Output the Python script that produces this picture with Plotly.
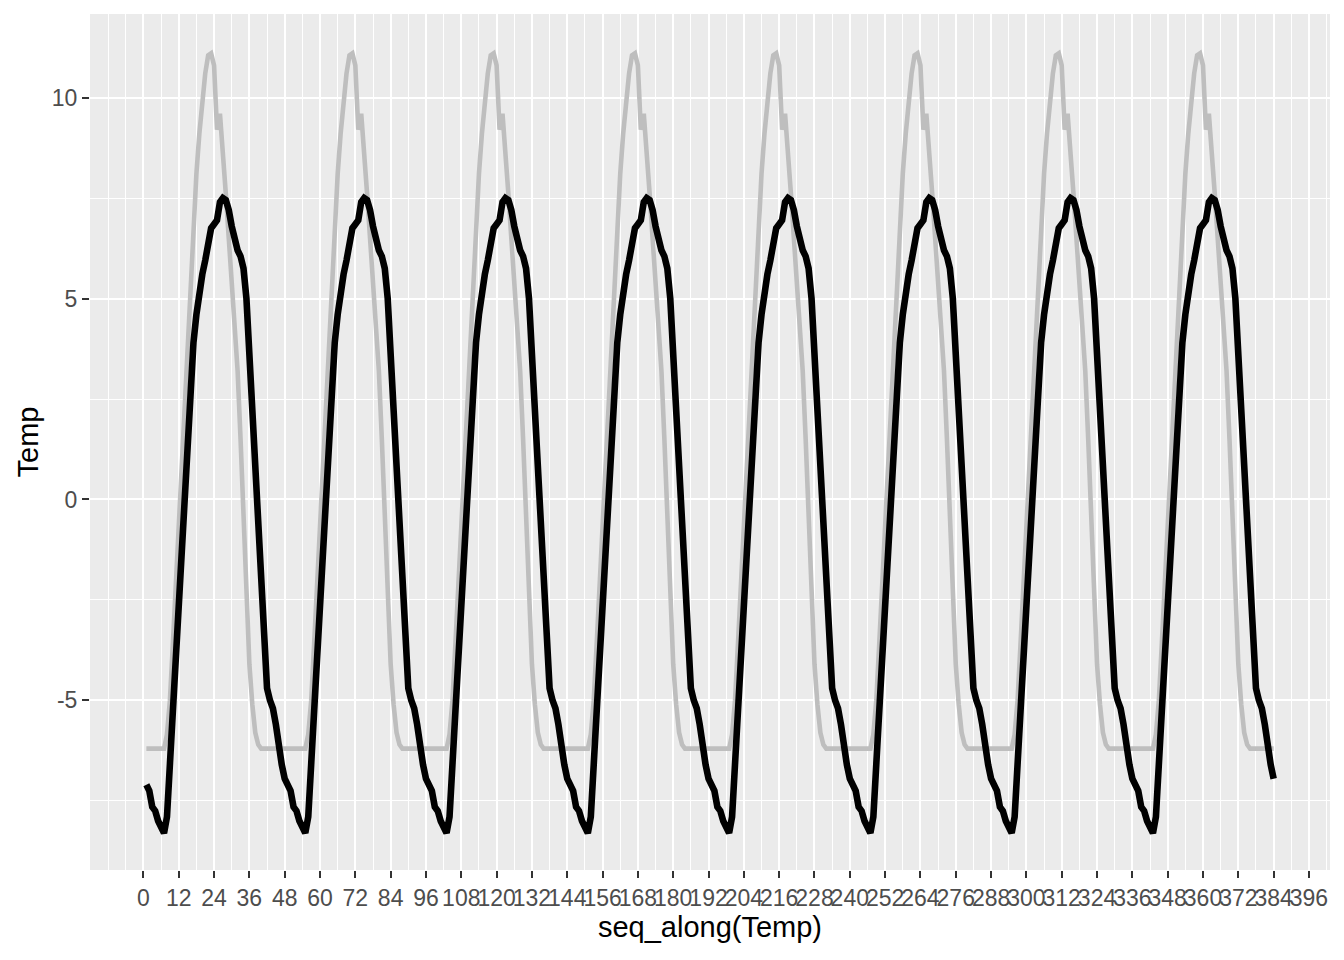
import plotly.graph_objects as go

# One daily cycle (48 readings); the chart repeats it for 8 days
n_days = 8
day_gray = [-6.2, -6.2, -6.2, -6.2, -6.2, -6.2, -6.2, -5.85, -5.0, -3.6,
            -2.1, -0.6, 0.9, 2.4, 3.9, 5.5, 7.0, 8.1, 9.1, 9.9,
            10.6, 11.05, 11.1, 10.8, 9.2, 9.6, 8.4, 7.6, 6.5, 5.3,
            4.2, 3.2, 1.5, -0.6, -2.5, -4.1, -5.1, -5.8, -6.1, -6.2,
            -6.2, -6.2, -6.2, -6.2, -6.2, -6.2, -6.2, -6.2]
day_black = [-7.1, -7.25, -7.65, -7.75, -8.0, -8.2, -8.3, -7.9, -6.6, -5.2,
             -3.6, -2.1, -0.7, 0.6, 1.9, 3.0, 3.9, 4.6, 5.2, 5.6,
             5.95, 6.5, 6.75, 6.85, 6.95, 7.4, 7.5, 7.45, 7.2, 6.8,
             6.4, 6.2, 6.05, 5.75, 5.0, 3.6, 2.3, 0.7, -0.9, -2.5,
             -3.8, -4.7, -5.0, -5.2, -5.6, -6.2, -6.6, -6.95]

temp_gray = day_gray * n_days
temp_black = day_black * n_days
x_gray = list(range(1, len(temp_gray) + 1))
x_black = list(range(1, len(temp_black) + 1))

x_ticks = list(range(0, 397, 12))
y_ticks = [-5, 0, 5, 10]

fig = go.Figure()
fig.add_trace(go.Scatter(x=x_gray, y=temp_gray, mode="lines",
                         line=dict(color="#BEBEBE", width=4.6)))
fig.add_trace(go.Scatter(x=x_black, y=temp_black, mode="lines",
                         line=dict(color="black", width=6.6)))

tickfont = dict(family="Liberation Sans, Arial", size=23, color="#4D4D4D")
titlefont = dict(family="Liberation Sans, Arial", size=29, color="black")

fig.update_layout(
    width=1344, height=960,
    margin=dict(l=90, r=14, t=14, b=90),
    plot_bgcolor="#EBEBEB", paper_bgcolor="white",
    showlegend=False,
    font=dict(family="Liberation Sans, Arial"),
)
fig.update_xaxes(
    range=[-18.15, 403.15], tickmode="array", tickvals=x_ticks,
    ticktext=[str(v) for v in x_ticks], tickangle=0,
    showgrid=True, gridcolor="white", gridwidth=2.2,
    minor=dict(tickmode="linear", tick0=0, dtick=6, showgrid=True,
               gridcolor="white", gridwidth=1.1, ticks=""),
    ticks="outside", ticklen=7, tickwidth=2.2, tickcolor="#333333",
    tickfont=tickfont, zeroline=False, showline=False,
    title=dict(text="seq_along(Temp)", font=titlefont, standoff=6),
    automargin=False,
)
fig.update_yaxes(
    range=[-9.22, 12.08], tickmode="array", tickvals=y_ticks,
    ticktext=[str(v) for v in y_ticks],
    showgrid=True, gridcolor="white", gridwidth=2.2,
    minor=dict(tickmode="linear", tick0=0, dtick=2.5, showgrid=True,
               gridcolor="white", gridwidth=1.1, ticks=""),
    ticks="outside", ticklen=7, tickwidth=2.2, tickcolor="#333333",
    tickfont=tickfont, zeroline=False, showline=False,
    title=dict(text="Temp", font=titlefont, standoff=4),
    automargin=False,
)

fig.write_html("out.html",
               config={"displayModeBar": False},
               post_script="document.body.style.margin='0';document.body.style.overflow='hidden';")
